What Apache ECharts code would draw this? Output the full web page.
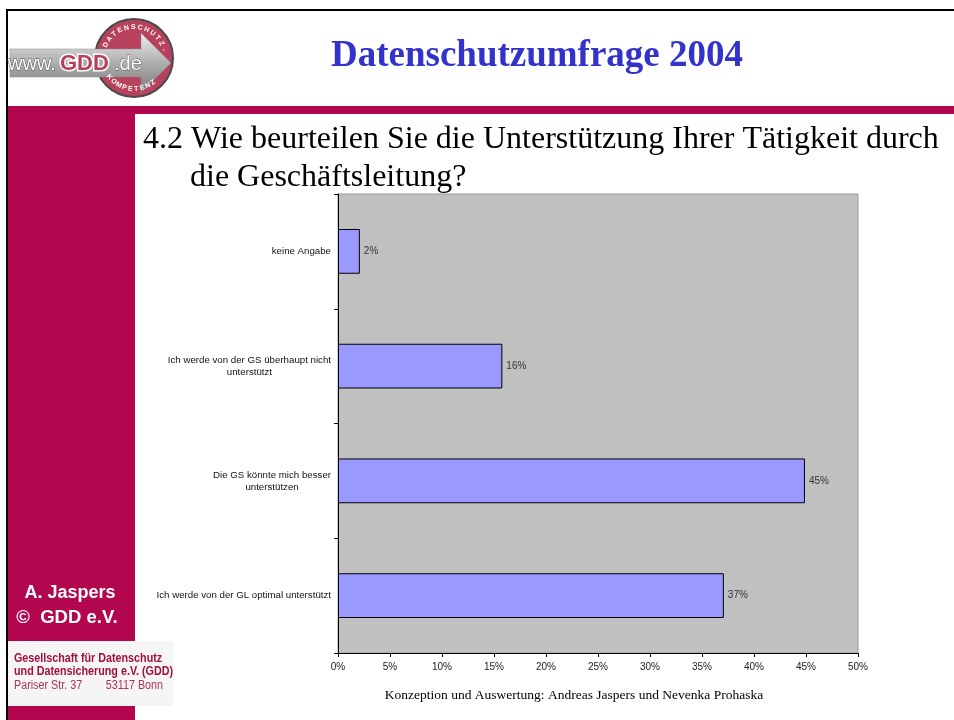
<!DOCTYPE html>
<html><head><meta charset="utf-8">
<script src="https://cdn.jsdelivr.net/npm/echarts@6/dist/echarts.min.js"></script>
<style>html,body{margin:0;padding:0;background:#fff}#c{width:954px;height:720px}</style>
</head><body><div id="c"></div>
<script>
// ---- data ----
const categories = [
  'keine Angabe',
  'Ich werde von der GS überhaupt nicht\nunterstützt',
  'Die GS könnte mich besser\nunterstützen',
  'Ich werde von der GL optimal unterstützt'
];
const values = [2.1, 15.8, 44.9, 37.1];
const valueLabels = ['2%', '16%', '45%', '37%'];
const xMin = 0, xMax = 50, xStep = 5;

// ---- styles ----
const MAG = '#B2064F';
const serif = '"Liberation Serif", "Times New Roman", serif';
const sans = '"Liberation Sans", Arial, sans-serif';

const chart = echarts.init(document.getElementById('c'), null, {renderer: 'canvas'});

// logo arc letters
function arcText(str, cx, cy, r, a0, a1, top) {
  const out = [];
  const n = str.length;
  for (let i = 0; i < n; i++) {
    const a = a0 + (a1 - a0) * i / (n - 1);
    const rad = a * Math.PI / 180;
    const theta = top ? a + 90 : a - 90;
    out.push({
      type: 'text', x: cx + r * Math.cos(rad), y: cy + r * Math.sin(rad),
      rotation: -theta * Math.PI / 180, z: 5,
      style: {text: str[i], fill: '#fff', font: 'bold 7px ' + sans, align: 'center', verticalAlign: 'middle'}
    });
  }
  return out;
}

const logoCx = 134, logoCy = 58;
const graphics = [
  {type: 'rect', shape: {x: 6, y: 9, width: 948, height: 2}, style: {fill: '#000'}},
  {type: 'rect', shape: {x: 6, y: 9, width: 2, height: 711}, style: {fill: '#000'}},
  {type: 'rect', shape: {x: 8, y: 106, width: 946, height: 8}, style: {fill: MAG}},
  {type: 'rect', shape: {x: 8, y: 114, width: 127, height: 606}, style: {fill: MAG}},
  {type: 'rect', shape: {x: 8, y: 641, width: 165, height: 65}, style: {fill: '#f5f5f5'}},
  // logo
  {type: 'circle', shape: {cx: logoCx, cy: logoCy, r: 39}, style: {fill: '#B8415D', stroke: '#4a4a4a', lineWidth: 2}, z: 2},
  {type: 'polygon', shape: {points: [[10, 49], [141, 49], [141, 33], [171, 63], [141, 93], [141, 77], [10, 77]]},
   style: {fill: new echarts.graphic.LinearGradient(0, 0, 0, 1, [{offset: 0, color: '#eeeeee'}, {offset: 0.45, color: '#b4b4b4'}, {offset: 1, color: '#777'}]),
   stroke: '#888', lineWidth: 0.5}, z: 3},
  {type: 'text', x: 8, y: 64, z: 6, style: {text: 'www.', font: '20px ' + sans, fill: '#fff', stroke: '#555', lineWidth: 1, verticalAlign: 'middle'}},
  {type: 'text', x: 60, y: 64, z: 6, style: {text: 'GDD', font: 'bold 22px ' + sans, fill: '#B5405A', stroke: '#fff', lineWidth: 3, verticalAlign: 'middle'}},
  {type: 'text', x: 114, y: 64, z: 6, style: {text: '.de', font: '20px ' + sans, fill: '#fff', stroke: '#555', lineWidth: 0.8, verticalAlign: 'middle'}},
  ...arcText('DATENSCHUTZ-', logoCx, logoCy, 31, -155, -15, true),
  ...arcText('KOMPETENZ', logoCx, logoCy, 31, 142, 52, false),
  // title and question
  {type: 'text', x: 537, y: 56, style: {text: 'Datenschutzumfrage 2004', font: 'bold 37px ' + serif, fill: '#3333CC', align: 'center', verticalAlign: 'middle'}},
  {type: 'text', x: 143, y: 140, style: {text: '4.2 Wie beurteilen Sie die Unterstützung Ihrer Tätigkeit durch', font: '32px ' + serif, fill: '#000', verticalAlign: 'middle'}},
  {type: 'text', x: 190, y: 178, style: {text: 'die Geschäftsleitung?', font: '32px ' + serif, fill: '#000', verticalAlign: 'middle'}},
  {type: 'text', x: 574, y: 695, style: {text: 'Konzeption und Auswertung: Andreas Jaspers und Nevenka Prohaska', font: '13.5px ' + serif, fill: '#000', align: 'center', verticalAlign: 'middle'}},
  // sidebar
  {type: 'text', x: 70, y: 593, style: {text: 'A. Jaspers', font: 'bold 18px ' + sans, fill: '#fff', align: 'center', verticalAlign: 'middle'}},
  {type: 'text', x: 67, y: 618, style: {text: '©  GDD e.V.', font: 'bold 18.5px ' + sans, fill: '#fff', align: 'center', verticalAlign: 'middle'}},
  {type: 'group', x: 14, y: 659, scaleX: 0.86, children: [
    {type: 'text', x: 0, y: 0, style: {text: 'Gesellschaft für Datenschutz', font: 'bold 12.5px ' + sans, fill: '#A3103F', verticalAlign: 'middle'}}]},
  {type: 'group', x: 14, y: 672, scaleX: 0.86, children: [
    {type: 'text', x: 0, y: 0, style: {text: 'und Datensicherung e.V. (GDD)', font: 'bold 12.5px ' + sans, fill: '#A3103F', verticalAlign: 'middle'}}]},
  {type: 'group', x: 14, y: 686, scaleX: 0.86, children: [
    {type: 'text', x: 0, y: 0, style: {text: 'Pariser Str. 37', font: '12.5px ' + sans, fill: '#B0305A', verticalAlign: 'middle'}}]},
  {type: 'group', x: 163, y: 686, scaleX: 0.86, children: [
    {type: 'text', x: 0, y: 0, style: {text: '53117 Bonn', font: '12.5px ' + sans, fill: '#B0305A', align: 'right', verticalAlign: 'middle'}}]}
];

chart.setOption({
  animation: false,
  backgroundColor: '#fff',
  grid: {left: 338, top: 194, width: 520, height: 459, show: true, backgroundColor: '#C0C0C0', borderColor: '#999', borderWidth: 1},
  xAxis: {
    type: 'value', min: xMin, max: xMax, interval: xStep,
    axisLine: {show: true, lineStyle: {color: '#000', width: 1}},
    axisTick: {show: true, length: 4, lineStyle: {color: '#000'}},
    splitLine: {show: false},
    axisLabel: {formatter: '{value}%', fontSize: 10, fontFamily: sans, color: '#222', margin: 9}
  },
  yAxis: {
    type: 'category', data: categories, inverse: true,
    axisLine: {show: true, lineStyle: {color: '#000', width: 1}},
    axisTick: {show: true, length: 4, lineStyle: {color: '#000'}},
    axisLabel: {
      fontSize: 9.7, fontFamily: sans, color: '#111', margin: 7, align: 'right',
      formatter: v => v.split('\n').map(s => '{c|' + s + '}').join('\n'),
      rich: {c: {align: 'center', fontSize: 9.7, fontFamily: sans, color: '#111', lineHeight: 12}}
    }
  },
  series: [{
    type: 'bar', data: values, barWidth: '39%',
    itemStyle: {color: '#9999FF', borderColor: '#000', borderWidth: 1},
    label: {show: true, position: 'right', distance: 4, fontSize: 10, fontFamily: sans, color: '#333',
      formatter: p => valueLabels[p.dataIndex]}
  }],
  graphic: graphics
});
</script></body></html>
